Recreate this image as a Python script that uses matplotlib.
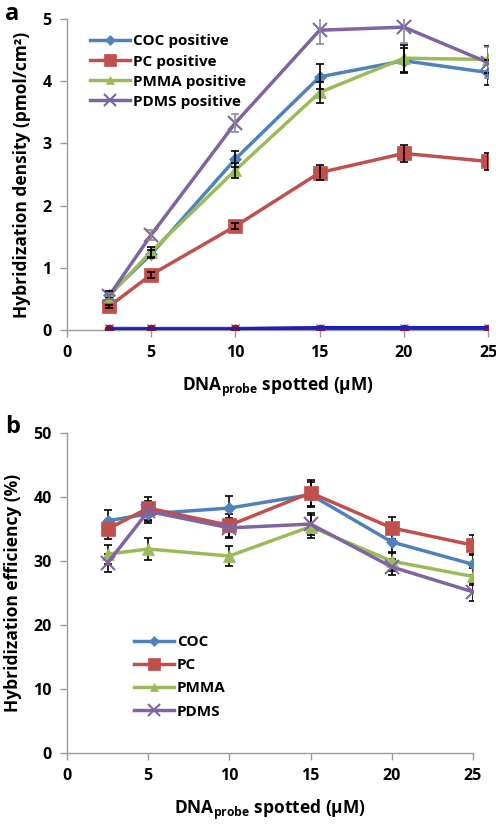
import matplotlib
matplotlib.use('Agg')
import matplotlib.pyplot as plt

# ==========================
# Dados
# ==========================
conc = [2.5, 5, 10, 15, 20, 25]
materials = ["COC", "PC", "PMMA", "PDMS"]
colors = ["#4F81BD", "#C0504D", "#9BBB59", "#8064A2"]
markers = ["D", "s", "^", "x"]
msizes = [6, 10, 8, 10]

# (a) densidade de hibridização (pmol/cm2)
dens = {
    "COC": [0.57, 1.22, 2.75, 4.07, 4.33, 4.14],
    "PC": [0.38, 0.89, 1.67, 2.53, 2.84, 2.71],
    "PMMA": [0.55, 1.26, 2.57, 3.82, 4.37, 4.35],
    "PDMS": [0.55, 1.53, 3.33, 4.82, 4.87, 4.30],
}
dens_err = {
    "COC": [0.05, 0.07, 0.13, 0.20, 0.20, 0.20],
    "PC": [0.03, 0.05, 0.05, 0.12, 0.14, 0.14],
    "PMMA": [0.05, 0.08, 0.12, 0.17, 0.22, 0.22],
    "PDMS": [0.05, 0.08, 0.15, 0.22, 0.25, 0.25],
}
# controles negativos (perto de zero)
neg_red = [0.01, 0.01, 0.01, 0.01, 0.01, 0.01]
neg_blue = [0.02, 0.02, 0.02, 0.04, 0.04, 0.04]
neg_purple = [0.03, 0.03, 0.03, 0.04, 0.04, 0.04]

# (b) eficiência de hibridização (%)
eff = {
    "COC": [36.3, 37.4, 38.3, 40.4, 33.0, 29.5],
    "PC": [35.0, 38.3, 35.6, 40.7, 35.2, 32.5],
    "PMMA": [31.1, 31.9, 30.8, 35.4, 30.0, 27.6],
    "PDMS": [29.7, 37.8, 35.2, 35.8, 29.1, 25.2],
}
eff_err = {
    "COC": [1.7, 1.5, 1.9, 2.0, 1.8, 1.6],
    "PC": [1.5, 1.8, 1.8, 2.0, 1.7, 1.6],
    "PMMA": [1.5, 1.7, 1.6, 1.8, 1.5, 1.4],
    "PDMS": [1.4, 1.6, 1.6, 1.7, 1.3, 1.4],
}

# ==========================
# Estilo
# ==========================
plt.rcParams['font.family'] = ['Open Sans', 'DejaVu Sans']
plt.rcParams['font.weight'] = 'bold'
plt.rcParams['mathtext.fontset'] = 'custom'
plt.rcParams['mathtext.rm'] = 'Open Sans:bold'
plt.rcParams['mathtext.it'] = 'Open Sans:bold'
plt.rcParams['mathtext.bf'] = 'Open Sans:bold'

fig = plt.figure(figsize=(4.96, 8.24), dpi=100)
ax_a = fig.add_axes([0.135, 0.5995, 0.849, 0.3774])
ax_b = fig.add_axes([0.135, 0.0862, 0.8185, 0.388])

xlabel = r"DNA$_{\mathrm{probe}}$ spotted (µM)"


def style_axis(ax):
    for s in ["top", "right"]:
        ax.spines[s].set_visible(False)
    for s in ["left", "bottom"]:
        ax.spines[s].set_color("#9a9a9a")
        ax.spines[s].set_linewidth(1.0)
    ax.tick_params(colors="#9a9a9a", labelcolor="black", labelsize=11.5,
                   length=5, width=1.0, pad=6)
    for lab in ax.get_xticklabels() + ax.get_yticklabels():
        lab.set_fontweight("bold")


# ==========================
# a) densidade
# ==========================
ax_a.plot(conc, neg_purple, color="#8064A2", marker="x", ms=6, lw=2, zorder=2)
ax_a.plot(conc, neg_red, color="#8B1A1A", marker="o", ms=6, lw=2, zorder=3)
ax_a.plot(conc, neg_blue, color="#1F1FBF", lw=2.2, zorder=4)

for m, c, mk, ms in zip(materials, colors, markers, msizes):
    ecol = "#8c8c8c" if m == "PDMS" else "black"
    ax_a.errorbar(conc, dens[m], yerr=dens_err[m], fmt="none", ecolor=ecol,
                  elinewidth=1.2, capsize=3, capthick=1.2, zorder=5)
    ax_a.plot(conc, dens[m], color=c, marker=mk, ms=ms, lw=2.5,
              mew=1.5 if mk == "x" else 0.5, mec=c, label=f"{m} positive", zorder=4)

ax_a.set_xlim(0, 25)
ax_a.set_ylim(0, 5)
ax_a.set_xticks([0, 5, 10, 15, 20, 25])
ax_a.set_yticks([0, 1, 2, 3, 4, 5])
style_axis(ax_a)
ax_a.set_xlabel(xlabel, fontsize=12.5, fontweight="bold", labelpad=10)
ax_a.set_ylabel("Hybridization density (pmol/cm²)", fontsize=12.5,
                fontweight="bold", labelpad=8)
leg = ax_a.legend(loc="upper left", bbox_to_anchor=(0.04, 0.97), frameon=False,
                  fontsize=11, handlelength=2.6, handletextpad=0.2,
                  labelspacing=0.4, borderaxespad=0, markerscale=0.8)
for t in leg.get_texts():
    t.set_fontweight("bold")

# ==========================
# b) eficiência
# ==========================
for m, c, mk, ms in zip(materials, colors, markers, msizes):
    ax_b.errorbar(conc, eff[m], yerr=eff_err[m], fmt="none", ecolor="black",
                  elinewidth=1.2, capsize=3, capthick=1.2, zorder=3)
    ax_b.plot(conc, eff[m], color=c, marker=mk, ms=ms, lw=2.5,
              mew=1.5 if mk == "x" else 0.5, mec=c, label=m, zorder=4)

ax_b.set_xlim(0, 25)
ax_b.set_ylim(0, 50)
ax_b.set_xticks([0, 5, 10, 15, 20, 25])
ax_b.set_yticks([0, 10, 20, 30, 40, 50])
style_axis(ax_b)
ax_b.set_xlabel(xlabel, fontsize=12.5, fontweight="bold", labelpad=10)
ax_b.set_ylabel("Hybridization efficiency (%)", fontsize=12.5,
                fontweight="bold", labelpad=8)
leg = ax_b.legend(loc="upper left", bbox_to_anchor=(0.15, 0.388), frameon=False,
                  fontsize=11, handlelength=2.6, handletextpad=0.2,
                  labelspacing=0.6, borderaxespad=0, markerscale=0.8)
for t in leg.get_texts():
    t.set_fontweight("bold")

# rótulos dos painéis
fig.text(0.01, 0.998, "a", fontsize=17, fontweight="bold", va="top")
fig.text(0.01, 0.496, "b", fontsize=17, fontweight="bold", va="top")

fig.savefig("out.png", dpi=100)
plt.close(fig)
